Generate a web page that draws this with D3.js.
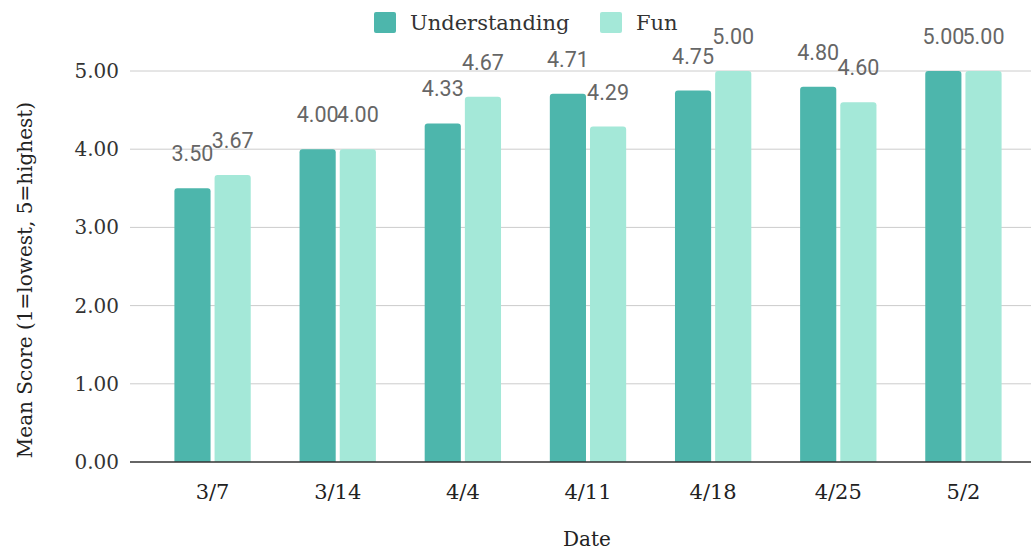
<!DOCTYPE html>
<html>
<head>
<meta charset="utf-8">
<script src="https://cdn.jsdelivr.net/npm/d3@7"></script>
<style>
  body { margin: 0; background: #fff; }
  svg { display: block; }
</style>
</head>
<body>
<script>
'use strict';

const width = 1033;
const height = 554;

const dates = ['3/7', '3/14', '4/4', '4/11', '4/18', '4/25', '5/2'];
const seriesNames = ['Understanding', 'Fun'];
const understanding = [3.50, 4.00, 4.33, 4.71, 4.75, 4.80, 5.00];
const fun = [3.67, 4.00, 4.67, 4.29, 5.00, 4.60, 5.00];
const yTicks = [0, 1, 2, 3, 4, 5];
const colors = ['#4db6ac', '#a4e8d8'];

const serif = "'DejaVu Serif', 'Liberation Serif', serif";
const sans = "Roboto, 'Noto Sans', sans-serif";

const rows = dates.map((d, i) => ({ date: d, values: [understanding[i], fun[i]] }));

const svg = d3.select('body')
  .append('svg')
  .attr('width', width)
  .attr('height', height);

const x0 = d3.scaleBand()
  .domain(dates)
  .range([150, 1026])
  .paddingInner(0.39)
  .paddingOuter(0.195);

const x1 = d3.scaleBand()
  .domain(seriesNames)
  .range([0, x0.bandwidth()])
  .paddingInner(0.1);

const y = d3.scaleLinear()
  .domain([0, 5])
  .range([462, 71]);

// gridlines
svg.append('g')
  .selectAll('line')
  .data(yTicks.filter(t => t > 0))
  .enter()
  .append('line')
  .attr('x1', 130)
  .attr('x2', 1031)
  .attr('y1', d => y(d))
  .attr('y2', d => y(d))
  .attr('stroke', '#cccccc')
  .attr('stroke-width', 1);

// y tick labels
svg.append('g')
  .selectAll('text')
  .data(yTicks)
  .enter()
  .append('text')
  .attr('x', 119)
  .attr('y', d => y(d) + 7)
  .attr('text-anchor', 'end')
  .attr('font-family', serif)
  .attr('font-size', '20px')
  .attr('fill', '#333')
  .text(d => d3.format('.2f')(d));

// bars with rounded tops
function barPath(x, top, w, bottom, r) {
  r = Math.min(r, (bottom - top) / 2);
  return `M${x},${bottom}V${top + r}Q${x},${top} ${x + r},${top}` +
    `H${x + w - r}Q${x + w},${top} ${x + w},${top + r}V${bottom}Z`;
}

const groups = svg.append('g')
  .selectAll('g')
  .data(rows)
  .enter()
  .append('g')
  .attr('transform', d => `translate(${x0(d.date)},0)`);

groups.selectAll('path')
  .data(d => d.values.map((v, i) => ({ name: seriesNames[i], value: v, i: i })))
  .enter()
  .append('path')
  .attr('d', d => barPath(x1(d.name), y(d.value), x1.bandwidth(), y(0), 3))
  .attr('fill', d => colors[d.i]);

// data labels
groups.selectAll('text')
  .data(d => d.values.map((v, i) => ({ name: seriesNames[i], value: v })))
  .enter()
  .append('text')
  .attr('x', d => x1(d.name) + x1.bandwidth() / 2)
  .attr('y', d => y(d.value) - 27)
  .attr('text-anchor', 'middle')
  .attr('font-family', sans)
  .attr('font-size', '21.5px')
  .attr('fill', '#666')
  .text(d => d3.format('.2f')(d.value));

// x axis baseline
svg.append('line')
  .attr('x1', 130)
  .attr('x2', 1031)
  .attr('y1', y(0))
  .attr('y2', y(0))
  .attr('stroke', '#333')
  .attr('stroke-width', 1.5);

// x tick labels
svg.append('g')
  .selectAll('text')
  .data(dates)
  .enter()
  .append('text')
  .attr('x', d => x0(d) + x0.bandwidth() / 2)
  .attr('y', 499)
  .attr('text-anchor', 'middle')
  .attr('font-family', serif)
  .attr('font-size', '21px')
  .attr('fill', '#222')
  .text(d => d);

// axis titles
svg.append('text')
  .attr('x', 587)
  .attr('y', 546)
  .attr('text-anchor', 'middle')
  .attr('font-family', serif)
  .attr('font-size', '20px')
  .attr('fill', '#222')
  .text('Date');

svg.append('text')
  .attr('transform', 'translate(32,280) rotate(-90)')
  .attr('text-anchor', 'middle')
  .attr('font-family', serif)
  .attr('font-size', '20px')
  .attr('fill', '#222')
  .text('Mean Score (1=lowest, 5=highest)');

// legend
const legendX = [374, 600];
const legend = svg.append('g')
  .selectAll('g')
  .data(seriesNames)
  .enter()
  .append('g')
  .attr('transform', (d, i) => `translate(${legendX[i]},12)`);

legend.append('rect')
  .attr('width', 22)
  .attr('height', 21)
  .attr('rx', 2)
  .attr('fill', (d, i) => colors[i]);

legend.append('text')
  .attr('x', 36)
  .attr('y', 18)
  .attr('font-family', serif)
  .attr('font-size', '21px')
  .attr('fill', '#333')
  .text(d => d);
</script>
</body>
</html>
